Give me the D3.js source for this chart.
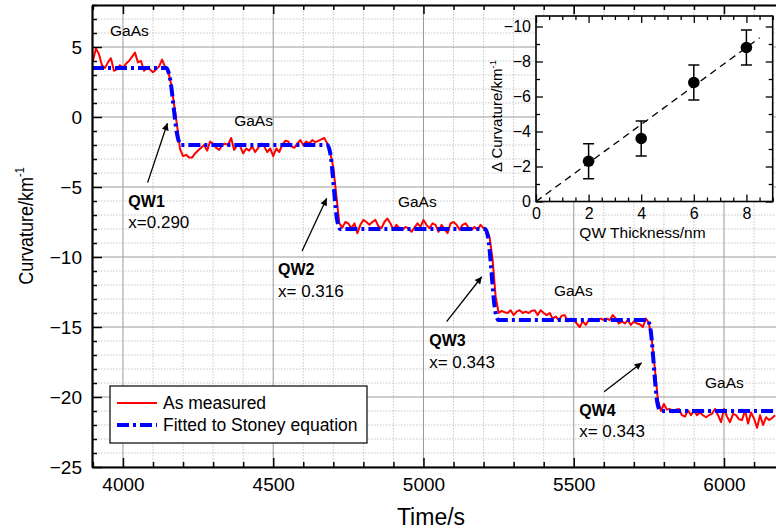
<!DOCTYPE html>
<html>
<head>
<meta charset="utf-8">
<script src="https://cdn.jsdelivr.net/npm/d3@7"></script>
<style>
body{margin:0;background:#fff;}
svg{display:block;font-family:"Liberation Sans",Arial,Helvetica,sans-serif;}
</style>
</head>
<body>
<svg id="chart" width="776" height="531"></svg>
<script>
// measured curvature, one reading every 10 s starting at 3900 s
const measStart = 3900;
const measStep = 10;
const measured = [
  4.0, 4.9, 4.5, 3.7, 3.5, 3.9, 4.2, 3.3, 3.4, 3.7,
  3.5, 3.8, 4.0, 4.3, 4.6, 3.9, 4.0, 3.3, 3.5, 3.4,
  3.2, 3.4, 3.6, 4.1, 3.6, 3.3, 2.4, 0.9, -0.6, -2.3,
  -2.8, -2.7, -2.9, -2.9, -2.6, -2.4, -2.2, -2.0, -2.4, -1.75,
  -1.9, -2.2, -2.35, -2.0, -1.9, -2.0, -1.5, -2.35, -2.0, -2.1,
  -2.6, -2.25, -2.4, -2.1, -2.5, -2.2, -1.9, -2.1, -2.5, -2.25,
  -2.8, -2.25, -2.5, -2.0, -1.7, -1.75, -2.1, -2.2, -1.9, -1.65,
  -2.0, -1.75, -1.9, -1.65, -1.8, -1.7, -1.6, -1.5, -1.9, -2.6,
  -3.6, -5.6, -7.6, -7.9, -7.5, -7.6, -7.95, -7.6, -8.3, -7.7,
  -7.35, -7.5, -7.7, -7.5, -7.35, -7.8, -7.95, -7.5, -7.25, -7.6,
  -8.05, -7.7, -7.95, -8.05, -7.85, -7.95, -8.2, -7.9, -7.6, -7.85,
  -7.35, -7.7, -7.95, -7.6, -7.7, -8.2, -7.7, -8.0, -8.3, -7.6,
  -7.5, -7.7, -8.05, -7.7, -7.6, -7.9, -8.05, -7.85, -8.05, -7.7,
  -7.95, -8.05, -8.6, -10.2, -12.8, -14.0, -13.85, -13.95, -14.0, -13.8,
  -14.15, -13.9, -13.8, -14.0, -13.9, -14.0, -13.85, -13.8, -14.15, -13.8,
  -14.0, -14.15, -14.0, -14.4, -14.25, -14.5, -14.2, -14.15, -14.6, -14.4,
  -14.5, -14.75, -15.0, -14.6, -14.85, -14.5, -14.4, -14.5, -14.45, -14.4,
  -14.5, -14.4, -14.5, -14.15, -14.4, -14.75, -14.6, -14.75, -14.5, -14.85,
  -14.6, -14.75, -14.8, -15.0, -14.4, -14.7, -16.0, -18.0, -20.2, -21.0,
  -20.5, -20.9, -20.85, -21.1, -20.9, -20.85, -21.3, -21.4, -20.95, -21.3,
  -20.95, -21.3, -21.1, -21.3, -21.45, -21.3, -21.2, -20.85, -21.3, -21.8,
  -20.85, -21.4, -21.8, -21.2, -21.3, -21.6, -21.65, -20.95, -21.9, -21.1,
  -21.55, -22.2, -21.3, -22.0, -21.45, -21.65, -21.5, -21.3
];

// Stoney equation fit (step levels with transitions)
const fitTime = [3897, 4145, 4153, 4184, 4193, 4681, 4689, 4714, 4723, 5206, 5214, 5240, 5250, 5746, 5754, 5779, 5789, 6173];
const fitCurv = [3.5, 3.5, 3.1, -1.6, -2.0, -2.0, -2.5, -7.5, -8.0, -8.0, -8.5, -14.0, -14.5, -14.5, -15.0, -20.5, -21.0, -21.0];

// ticks
const xMajor = [4000, 4500, 5000, 5500, 6000];
const yMajor = [-25, -20, -15, -10, -5, 0, 5];

// annotations (data units)
const layerText = ['GaAs', 'GaAs', 'GaAs', 'GaAs', 'GaAs'];
const layerTime = [3957, 4370, 4915, 5434, 5937];
const layerCurv = [5.8, -0.64, -6.43, -12.79, -19.36];

const qwName = ['QW1', 'QW2', 'QW3', 'QW4'];
const qwComp = ['x=0.290', 'x= 0.316', 'x= 0.343', 'x= 0.343'];
const qwTime = [4018, 4516, 5019, 5518];
const qwCurv = [-6.41, -11.29, -16.36, -21.34];
const arrowTail = [[4082, -4.69], [4596, -9.57], [5077, -14.62], [5601, -19.62]];
const arrowHead = [[4148, -0.45], [4678, -5.81], [5194, -11.41], [5726, -17.55]];

// inset data
const qwThick = [2, 4, 6, 8];
const deltaCurv = [-2.3, -3.6, -6.8, -8.8];
const deltaErr = [1.0, 1.0, 1.0, 1.0];
const trendThick = [0, 8.5];
const trendCurv = [0, -9.35];
const insetXTicks = [0, 2, 4, 6, 8];
const insetYTicks = [0, -2, -4, -6, -8, -10];

const svg = d3.select('#chart');
svg.append('rect').attr('width', 776).attr('height', 531).attr('fill', '#fff');

const x = d3.scaleLinear().domain([3897, 6173]).range([92, 776]);
const y = d3.scaleLinear().domain([-25, 8]).range([467, 5]);

const xMinor = d3.range(3900, 6200, 100).filter(d => !xMajor.includes(d));
const yMinor = d3.range(-25, 9, 1).filter(d => !yMajor.includes(d));

// grid
const grid = svg.append('g');
grid.selectAll('.vmin').data(xMinor).enter().append('line')
  .attr('x1', d => x(d)).attr('x2', d => x(d)).attr('y1', 5).attr('y2', 467)
  .attr('stroke', '#c8c8c8').attr('stroke-dasharray', '1.5,1.5');
grid.selectAll('.hmin').data(yMinor).enter().append('line')
  .attr('x1', 92).attr('x2', 776).attr('y1', d => y(d)).attr('y2', d => y(d))
  .attr('stroke', '#c8c8c8').attr('stroke-dasharray', '1.5,1.5');
grid.selectAll('.vmaj').data(xMajor).enter().append('line')
  .attr('x1', d => x(d)).attr('x2', d => x(d)).attr('y1', 5).attr('y2', 467)
  .attr('stroke', '#9a9a9a').attr('stroke-width', 1);
grid.selectAll('.hmaj').data(yMajor).enter().append('line')
  .attr('x1', 92).attr('x2', 776).attr('y1', d => y(d)).attr('y2', d => y(d))
  .attr('stroke', '#9a9a9a').attr('stroke-width', 1);

// data lines
svg.append('clipPath').attr('id', 'plotclip').append('rect')
  .attr('x', 92).attr('y', 5).attr('width', 684).attr('height', 462);

const measLine = d3.line()
  .x((d, i) => x(measStart + i * measStep))
  .y(d => y(d));
svg.append('path').datum(measured)
  .attr('clip-path', 'url(#plotclip)')
  .attr('d', measLine)
  .attr('fill', 'none').attr('stroke', '#ff0000').attr('stroke-width', 2)
  .attr('stroke-linejoin', 'round');

const fitLine = d3.line()
  .x(d => x(d[0])).y(d => y(d[1]))
  .curve(d3.curveMonotoneX);
svg.append('path').datum(d3.zip(fitTime, fitCurv))
  .attr('clip-path', 'url(#plotclip)')
  .attr('d', fitLine)
  .attr('fill', 'none').attr('stroke', '#0000ff').attr('stroke-width', 4)
  .attr('stroke-dasharray', '12,4,3,4');

// axes
function styleAxis(g, size) {
  g.attr('font-family', null).attr('font-size', size);
  g.selectAll('text').attr('fill', '#000');
  g.selectAll('line').attr('stroke', '#000').attr('stroke-width', 1.5);
}

const axB = svg.append('g').attr('transform', 'translate(0,467)')
  .call(d3.axisBottom(x).tickValues(xMajor).tickSize(-9).tickSizeOuter(0).tickPadding(11).tickFormat(d3.format('d')));
styleAxis(axB, 19);
axB.select('.domain').attr('stroke', '#000').attr('stroke-width', 2.2);
const axBm = svg.append('g').attr('transform', 'translate(0,467)')
  .call(d3.axisBottom(x).tickValues(xMinor).tickSize(-5).tickFormat(''));
styleAxis(axBm, 10);
axBm.select('.domain').remove();

const axT = svg.append('g').attr('transform', 'translate(0,5)')
  .call(d3.axisTop(x).tickValues(xMajor).tickSize(-9).tickSizeOuter(0).tickFormat(''));
styleAxis(axT, 10);
axT.select('.domain').attr('stroke', '#000').attr('stroke-width', 2.2);
const axTm = svg.append('g').attr('transform', 'translate(0,5)')
  .call(d3.axisTop(x).tickValues(xMinor).tickSize(-5).tickFormat(''));
styleAxis(axTm, 10);
axTm.select('.domain').remove();

const axL = svg.append('g').attr('transform', 'translate(92,0)')
  .call(d3.axisLeft(y).tickValues(yMajor).tickSize(-10).tickSizeOuter(0).tickPadding(10));
styleAxis(axL, 19);
axL.select('.domain').attr('stroke', '#000').attr('stroke-width', 2.2);
const axLm = svg.append('g').attr('transform', 'translate(92,0)')
  .call(d3.axisLeft(y).tickValues(yMinor).tickSize(-5).tickFormat(''));
styleAxis(axLm, 10);
axLm.select('.domain').remove();

// axis titles
svg.append('text').attr('x', 431).attr('y', 525).attr('text-anchor', 'middle')
  .attr('font-size', 23).text('Time/s');
const yTitle = svg.append('text')
  .attr('transform', 'translate(33,226) rotate(-90) scale(1,1.15)')
  .attr('text-anchor', 'middle').attr('font-size', 18);
yTitle.append('tspan').text('Curvature/km');
yTitle.append('tspan').attr('dy', -8).attr('font-size', 11).text('-1');

// annotations
const ann = svg.append('g');
ann.selectAll('.layer').data(layerText).enter().append('text')
  .attr('x', (d, i) => x(layerTime[i])).attr('y', (d, i) => y(layerCurv[i]))
  .attr('font-size', 15.5).text(d => d);

ann.selectAll('.qw').data(qwName).enter().append('text')
  .attr('x', (d, i) => x(qwTime[i])).attr('y', (d, i) => y(qwCurv[i]))
  .attr('font-size', 16).attr('font-weight', 'bold').text(d => d);
ann.selectAll('.comp').data(qwComp).enter().append('text')
  .attr('x', (d, i) => x(qwTime[i])).attr('y', (d, i) => y(qwCurv[i]) + 21.6)
  .attr('font-size', 17).text(d => d);

svg.append('defs').append('marker')
  .attr('id', 'arrowhead').attr('markerUnits', 'userSpaceOnUse')
  .attr('viewBox', '0 0 10 10').attr('refX', 10).attr('refY', 5)
  .attr('markerWidth', 9).attr('markerHeight', 7).attr('orient', 'auto')
  .append('path').attr('d', 'M0,0 L10,5 L0,10 Z').attr('fill', '#000');

ann.selectAll('.arrow').data(arrowTail).enter().append('line')
  .attr('x1', d => x(d[0])).attr('y1', d => y(d[1]))
  .attr('x2', (d, i) => x(arrowHead[i][0])).attr('y2', (d, i) => y(arrowHead[i][1]))
  .attr('stroke', '#000').attr('stroke-width', 1.3)
  .attr('marker-end', 'url(#arrowhead)');

// legend
const leg = svg.append('g');
leg.append('rect').attr('x', 110).attr('y', 386).attr('width', 257).attr('height', 57)
  .attr('fill', '#fff').attr('stroke', '#000').attr('stroke-width', 1.2);
leg.append('line').attr('x1', 117).attr('x2', 157).attr('y1', 403).attr('y2', 403)
  .attr('stroke', '#ff0000').attr('stroke-width', 2);
leg.append('text').attr('x', 163).attr('y', 409).attr('font-size', 17.5).text('As measured');
leg.append('line').attr('x1', 117).attr('x2', 157).attr('y1', 425).attr('y2', 425)
  .attr('stroke', '#0000ff').attr('stroke-width', 4).attr('stroke-dasharray', '12,4,3,4');
leg.append('text').attr('x', 163).attr('y', 431).attr('font-size', 17.5).text('Fitted to Stoney equation');

// inset
const ix = d3.scaleLinear().domain([0, 9]).range([536, 772.7]);
const iy = d3.scaleLinear().domain([0, -10.6]).range([201.5, 16]);
const inset = svg.append('g');
inset.append('rect').attr('x', 536).attr('y', 16).attr('width', 236.7).attr('height', 185.5)
  .attr('fill', '#fff');

const ixMinor = d3.range(0, 9.01, 0.5).filter(d => !insetXTicks.includes(d));
const iyMinor = d3.range(0, -10.6, -1).filter(d => !insetYTicks.includes(d));

const iaB = inset.append('g').attr('transform', 'translate(0,201.5)')
  .call(d3.axisBottom(ix).tickValues(insetXTicks).tickSize(-7).tickSizeOuter(0).tickPadding(6));
const iaBm = inset.append('g').attr('transform', 'translate(0,201.5)')
  .call(d3.axisBottom(ix).tickValues(ixMinor).tickSize(-4).tickFormat(''));
const iaT = inset.append('g').attr('transform', 'translate(0,16)')
  .call(d3.axisTop(ix).tickValues(insetXTicks).tickSize(-7).tickFormat(''));
const iaTm = inset.append('g').attr('transform', 'translate(0,16)')
  .call(d3.axisTop(ix).tickValues(ixMinor).tickSize(-4).tickFormat(''));
const iaL = inset.append('g').attr('transform', 'translate(536,0)')
  .call(d3.axisLeft(iy).tickValues(insetYTicks).tickSize(-7).tickSizeOuter(0).tickPadding(5));
const iaLm = inset.append('g').attr('transform', 'translate(536,0)')
  .call(d3.axisLeft(iy).tickValues(iyMinor).tickSize(-4).tickFormat(''));
const iaR = inset.append('g').attr('transform', 'translate(772.7,0)')
  .call(d3.axisRight(iy).tickValues(insetYTicks).tickSize(-7).tickFormat(''));
const iaRm = inset.append('g').attr('transform', 'translate(772.7,0)')
  .call(d3.axisRight(iy).tickValues(iyMinor).tickSize(-4).tickFormat(''));
[iaB, iaBm, iaT, iaTm, iaL, iaLm, iaR, iaRm].forEach(g => {
  styleAxis(g, 16);
  g.selectAll('line').attr('stroke-width', 1.3);
  g.select('.domain').remove();
});
inset.append('rect').attr('x', 536).attr('y', 16).attr('width', 236.7).attr('height', 185.5)
  .attr('fill', 'none').attr('stroke', '#000').attr('stroke-width', 1.6);

inset.append('path').datum(d3.zip(trendThick, trendCurv))
  .attr('d', d3.line().x(d => ix(d[0])).y(d => iy(d[1])))
  .attr('fill', 'none').attr('stroke', '#000').attr('stroke-width', 1.3)
  .attr('stroke-dasharray', '7,5');

const pts = inset.selectAll('.pt').data(qwThick).enter().append('g');
pts.append('line')
  .attr('x1', d => ix(d)).attr('x2', d => ix(d))
  .attr('y1', (d, i) => iy(deltaCurv[i] - deltaErr[i])).attr('y2', (d, i) => iy(deltaCurv[i] + deltaErr[i]))
  .attr('stroke', '#000').attr('stroke-width', 1.5);
pts.append('line')
  .attr('x1', d => ix(d) - 5.5).attr('x2', d => ix(d) + 5.5)
  .attr('y1', (d, i) => iy(deltaCurv[i] - deltaErr[i])).attr('y2', (d, i) => iy(deltaCurv[i] - deltaErr[i]))
  .attr('stroke', '#000').attr('stroke-width', 1.5);
pts.append('line')
  .attr('x1', d => ix(d) - 5.5).attr('x2', d => ix(d) + 5.5)
  .attr('y1', (d, i) => iy(deltaCurv[i] + deltaErr[i])).attr('y2', (d, i) => iy(deltaCurv[i] + deltaErr[i]))
  .attr('stroke', '#000').attr('stroke-width', 1.5);
pts.append('circle')
  .attr('cx', d => ix(d)).attr('cy', (d, i) => iy(deltaCurv[i]))
  .attr('r', 5.8).attr('fill', '#000');

inset.append('text').attr('x', 642.5).attr('y', 238).attr('text-anchor', 'middle')
  .attr('font-size', 15.5).text('QW Thickness/nm');
const iyTitle = inset.append('text')
  .attr('transform', 'translate(502,116) rotate(-90)')
  .attr('text-anchor', 'middle').attr('font-size', 15);
iyTitle.append('tspan').text('\u0394 Curvature/km');
iyTitle.append('tspan').attr('dy', -6).attr('font-size', 9.5).text('-1');
</script>
</body>
</html>
